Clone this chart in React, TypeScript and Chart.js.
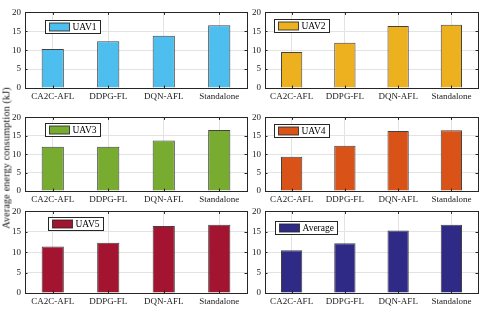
import React, { useEffect, useRef } from "react";
import { Chart, registerables } from "chart.js";

Chart.register(...registerables);

const categories = ["CA2C-AFL", "DDPG-FL", "DQN-AFL", "Standalone"];
const yTicks = [0, 5, 10, 15, 20];
const uav1 = [10.3, 12.4, 13.8, 16.6];
const uav2 = [9.5, 12.0, 16.4, 16.7];
const uav3 = [12.0, 12.0, 13.7, 16.6];
const uav4 = [9.3, 12.3, 16.3, 16.5];
const uav5 = [11.4, 12.3, 16.4, 16.7];
const average = [10.5, 12.2, 15.3, 16.7];
const seriesNames = ["UAV1", "UAV2", "UAV3", "UAV4", "UAV5", "Average"];
const yTitle = "Average energy consumption (kJ)";

const FONT = "'Liberation Serif', 'Times New Roman', serif";
const AXIS = "#262626";

type Rect = { l: number; t: number; r: number; b: number };

const PAD_L = 18;
const PAD_T = 5;
const PAD_R = 3;
const PAD_B = 16;

const framePlugin = {
  id: "frame",
  afterDatasetsDraw(chart: any, _args: any, opts: any) {
    const { ctx, chartArea: a, scales } = chart;
    ctx.save();
    ctx.strokeStyle = AXIS;
    ctx.lineWidth = 1;
    ctx.strokeRect(Math.round(a.left) + 0.5, Math.round(a.top) + 0.5, Math.round(a.right - a.left), Math.round(a.bottom - a.top));
    const tl = 2.5;
    ctx.beginPath();
    scales.y.ticks.forEach((t: any) => {
      const y = Math.round(scales.y.getPixelForValue(t.value)) + 0.5;
      ctx.moveTo(a.left, y);
      ctx.lineTo(a.left + tl, y);
      ctx.moveTo(a.right, y);
      ctx.lineTo(a.right - tl, y);
    });
    categories.forEach((_c, i) => {
      const x = Math.round(scales.x.getPixelForValue(i)) + 0.5;
      ctx.moveTo(x, a.bottom);
      ctx.lineTo(x, a.bottom - tl);
      ctx.moveTo(x, a.top);
      ctx.lineTo(x, a.top + tl);
    });
    ctx.stroke();

    // legend
    const lg = opts;
    const bx = Math.round(a.left + lg.dx) + 0.5;
    const by = Math.round(a.top + lg.dy) + 0.5;
    ctx.font = `9.5px ${FONT}`;
    const tw = ctx.measureText(lg.label).width;
    const bw = Math.round(4 + 20 + 3 + tw + 4);
    const bh = 13;
    ctx.fillStyle = "#ffffff";
    ctx.fillRect(bx, by, bw, bh);
    ctx.strokeStyle = "#262626";
    ctx.strokeRect(bx, by, bw, bh);
    ctx.fillStyle = lg.color;
    ctx.fillRect(bx + 4, by + 2.5, 20, 8);
    ctx.strokeStyle = "rgba(40,40,40,0.85)";
    ctx.strokeRect(bx + 4, by + 2.5, 20, 8);
    ctx.fillStyle = "#000";
    ctx.textBaseline = "middle";
    ctx.textAlign = "left";
    ctx.fillText(lg.label, bx + 27, by + bh / 2 + 0.5);
    ctx.restore();
  },
};

function Panel({ values, color, label, rect, legendDx, legendDy }: { values: number[]; color: string; label: string; rect: Rect; legendDx: number; legendDy: number }) {
  const ref = useRef<HTMLCanvasElement | null>(null);
  const w = rect.r - rect.l + PAD_L + PAD_R;
  const h = rect.b - rect.t + PAD_T + PAD_B;
  useEffect(() => {
    if (!ref.current) return;
    const chart = new Chart(ref.current, {
      type: "bar",
      data: {
        labels: categories,
        datasets: [
          {
            label,
            data: values,
            backgroundColor: color,
            borderColor: "rgba(45,45,45,0.9)",
            borderWidth: 1,
            barPercentage: 0.4,
            categoryPercentage: 1,
          },
        ],
      },
      options: {
        animation: false,
        responsive: false,
        maintainAspectRatio: false,
        layout: { padding: { top: PAD_T, right: PAD_R, left: 0, bottom: 0 } },
        plugins: {
          legend: { display: false },
          tooltip: { enabled: false },
          frame: { label, color, dx: legendDx, dy: legendDy },
        } as any,
        scales: {
          x: {
            offset: true,
            grid: { display: true, offset: false, color: "#e3e3e3", drawTicks: false },
            border: { display: false },
            ticks: { color: "#1a1a1a", font: { family: FONT, size: 9 }, padding: 3, maxRotation: 0, autoSkip: false },
            afterFit: (s: any) => {
              s.height = PAD_B;
            },
          },
          y: {
            min: 0,
            max: 20,
            afterBuildTicks: (s: any) => {
              s.ticks = yTicks.map((v) => ({ value: v }));
            },
            grid: { color: "#e3e3e3", drawTicks: false },
            border: { display: false },
            ticks: { color: "#1a1a1a", font: { family: FONT, size: 9 }, padding: 4 },
            afterFit: (s: any) => {
              s.width = PAD_L;
            },
          },
        },
      },
      plugins: [framePlugin],
    });
    return () => chart.destroy();
  }, []);
  return (
    <canvas
      ref={ref}
      width={w}
      height={h}
      style={{ position: "absolute", left: rect.l - PAD_L, top: rect.t - PAD_T, width: w, height: h }}
    />
  );
}

export default function App() {
  const L = { l: 25, r: 247 };
  const R = { l: 265, r: 478 };
  const rows = [
    { t: 8, b: 88 },
    { t: 113, b: 191 },
    { t: 207, b: 293 },
  ];
  const panels = [
    { values: uav1, color: "#4DBEEE", rect: { ...L, ...rows[0] }, dx: 20, dy: 8 },
    { values: uav2, color: "#EDB120", rect: { ...R, ...rows[0] }, dx: 9, dy: 7 },
    { values: uav3, color: "#77AC30", rect: { ...L, ...rows[1] }, dx: 20, dy: 6 },
    { values: uav4, color: "#D95319", rect: { ...R, ...rows[1] }, dx: 9, dy: 7 },
    { values: uav5, color: "#A2142F", rect: { ...L, ...rows[2] }, dx: 23, dy: 6 },
    { values: average, color: "#2F2A86", rect: { ...R, ...rows[2] }, dx: 10, dy: 10 },
  ];
  return (
    <div style={{ position: "fixed", left: 0, top: 0, width: 484, height: 309, background: "#fff", overflow: "hidden" }}>
      {panels.map((p, i) => (
        <Panel key={i} values={p.values} color={p.color} label={seriesNames[i]} rect={p.rect} legendDx={p.dx} legendDy={p.dy} />
      ))}
      <div
        style={{
          position: "absolute",
          left: 5.5,
          top: 158,
          transform: "translate(-50%, -50%) rotate(-90deg)",
          whiteSpace: "nowrap",
          fontFamily: FONT,
          fontSize: 10.5,
          lineHeight: "11px",
          color: "#1a1a1a",
        }}
      >
        {yTitle}
      </div>
    </div>
  );
}
